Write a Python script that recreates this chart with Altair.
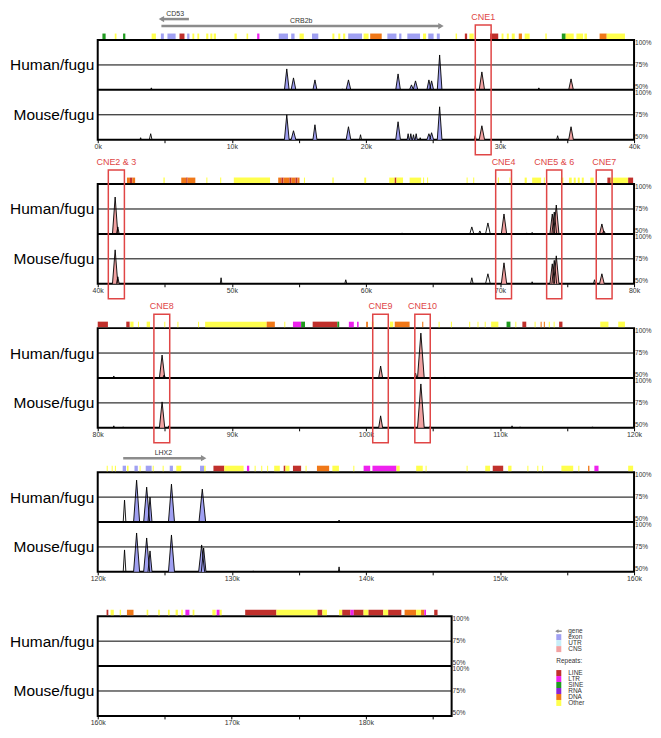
import altair as alt
import pandas as pd

# ---------------- data ----------------
panel_start = [0, 40, 80, 120, 160]
panel_end = [40, 80, 120, 160, 186.4]

# conserved peaks (kb, % identity, annotation, base span kb) - Human/fugu
human_pos = [4.0, 14.1, 14.6, 16.2, 18.25, 18.7, 22.4, 23.4, 23.7, 24.7, 24.9, 25.5, 28.65, 32.9, 35.3,
             41.3, 41.5, 62.7, 67.9, 68.5, 69.1, 70.3, 72.0, 72.4, 73.9, 74.05, 74.2, 77.1, 77.6, 77.75,
             81.2, 84.8, 84.95, 101.1, 103.7, 104.1, 105.9,
             122.0, 122.9, 123.65, 123.9, 125.5, 127.8, 138.0,
             163.4]
human_pct = [52, 71, 62, 60, 51, 60, 66, 55, 59, 60, 59, 85, 68, 52, 61,
             87, 57, 51, 57, 53, 61, 70, 51, 51.5, 70, 72, 79, 51, 60, 53,
             52, 73, 53, 62, 55, 95, 51,
             72, 92, 85, 75, 88, 83, 52,
             51]
human_kind = ['none', 'exon', 'exon', 'exon', 'none', 'exon', 'exon', 'exon', 'exon', 'exon', 'exon', 'exon', 'CNS', 'none', 'CNS',
              'CNS', 'CNS', 'none', 'none', 'none', 'none', 'CNS', 'none', 'none', 'CNS', 'CNS', 'CNS', 'none', 'CNS', 'CNS',
              'none', 'CNS', 'CNS', 'CNS', 'CNS', 'CNS', 'none',
              'none', 'exon', 'exon', 'exon', 'exon', 'exon', 'none',
              'none']
human_span = [0.12, 0.35, 0.35, 0.3, 0.1, 0.35, 0.35, 0.3, 0.35, 0.3, 0.3, 0.35, 0.4, 0.15, 0.35,
              0.4, 0.2, 0.1, 0.3, 0.2, 0.35, 0.4, 0.1, 0.1, 0.35, 0.35, 0.4, 0.1, 0.35, 0.25,
              0.12, 0.4, 0.2, 0.3, 0.2, 0.5, 0.12,
              0.2, 0.45, 0.45, 0.3, 0.45, 0.5, 0.1,
              0.1]

# Mouse/fugu
mouse_pos = [3.2, 3.95, 14.1, 14.6, 16.2, 18.7, 19.6, 22.4, 23.15, 23.35, 23.55, 23.75, 24.05, 24.7, 24.9, 25.5, 28.15, 28.65, 34.3, 35.3,
             41.3, 41.5, 49.2, 58.5, 67.9, 69.1, 70.3, 72.4, 73.9, 74.05, 74.2, 77.05, 77.6,
             81.2, 81.9, 84.8, 85.3, 101.1, 104.1, 104.8, 110.9, 111.5, 116.9,
             122.0, 122.9, 123.65, 123.9, 125.5, 127.75, 127.9, 131.6, 138.0]
mouse_pct = [52, 56, 75, 59, 65, 63, 55, 68, 56, 56, 55, 56, 52, 56, 57, 83, 54, 64, 54, 63,
             84, 57, 56, 54, 56, 60, 71, 52, 70, 73.5, 78, 54, 60,
             52, 51, 76, 52, 62, 94, 52, 52, 51, 51,
             72, 89, 84, 71, 87, 77, 74, 51, 55]
mouse_kind = ['none', 'none', 'exon', 'exon', 'exon', 'exon', 'none', 'exon', 'exon', 'exon', 'exon', 'exon', 'none', 'exon', 'exon', 'exon', 'none', 'CNS', 'none', 'CNS',
              'CNS', 'CNS', 'none', 'none', 'none', 'none', 'CNS', 'none', 'CNS', 'CNS', 'CNS', 'none', 'CNS',
              'none', 'none', 'CNS', 'none', 'CNS', 'CNS', 'none', 'none', 'none', 'none',
              'none', 'exon', 'exon', 'exon', 'exon', 'exon', 'exon', 'none', 'none']
mouse_span = [0.1, 0.2, 0.35, 0.35, 0.3, 0.35, 0.15, 0.35, 0.15, 0.15, 0.15, 0.15, 0.1, 0.3, 0.3, 0.35, 0.15, 0.4, 0.15, 0.35,
              0.4, 0.2, 0.12, 0.15, 0.2, 0.35, 0.4, 0.1, 0.35, 0.35, 0.4, 0.15, 0.35,
              0.1, 0.1, 0.4, 0.15, 0.3, 0.5, 0.15, 0.1, 0.1, 0.1,
              0.2, 0.45, 0.45, 0.3, 0.45, 0.45, 0.35, 0.1, 0.1]

# annotation track (exons and repeats), kb
ann_start = [0.35, 1.27, 1.89, 4.02, 4.71, 5.20, 6.10, 6.67, 7.06, 7.43, 8.09, 8.40, 8.65, 10.20, 11.10, 11.89, 13.50, 14.43, 15.05, 15.98,
             17.50, 17.94, 18.30, 18.68, 19.83, 20.32, 21.60, 22.48, 23.09, 24.26, 24.65, 25.29, 26.69, 27.38, 27.72, 29.26, 30.12, 30.51,
             30.88, 31.40, 31.84, 33.38, 34.61, 34.90, 35.70, 36.30, 37.43, 37.96,
             42.18, 42.40, 42.58, 44.90, 46.23, 46.60, 46.70, 48.10, 49.13, 50.15, 53.46, 53.70, 53.85, 54.30, 54.45, 54.75, 54.90, 55.38,
             57.50, 59.88, 61.74, 62.15, 62.28, 63.26, 64.26, 64.56, 67.51, 68.00, 69.84, 70.70, 71.84, 72.40, 73.27, 74.54, 75.15, 75.50,
             75.80, 76.10, 76.74, 78.01, 78.26, 79.56,
             80.00, 82.13, 82.43, 83.00, 83.65, 84.96, 85.94, 87.48, 88.01, 92.60, 93.91, 94.56, 95.17, 96.03, 97.87, 98.73, 99.34, 100.02,
             100.44, 101.79, 102.15, 104.20, 105.42, 106.34, 107.70, 108.32, 108.86, 109.34, 110.49, 111.14, 111.67, 112.58, 113.03, 113.27,
             113.64, 114.00, 114.41, 117.48, 118.82,
             120.67, 121.04, 121.28, 121.86, 122.18, 122.74, 123.12, 123.58, 124.10, 124.84, 125.37, 125.86, 127.63, 127.94, 128.63, 129.44,
             131.13, 131.70, 132.19, 132.63, 133.16, 133.87, 134.00, 134.56, 135.50, 136.35, 137.50, 139.06, 139.83, 140.49, 142.28, 143.75,
             144.45, 147.51, 148.90, 149.46, 150.61, 152.04, 152.78, 153.14, 154.58, 155.84, 156.57, 157.04, 159.56,
             160.66, 160.96, 161.64, 162.18, 163.65, 164.51, 165.24, 165.81, 166.23, 166.54, 167.08, 168.55, 168.87, 169.10, 171.00, 173.33,
             176.40, 176.76, 178.00, 178.24, 178.85, 179.10, 179.83, 180.20, 181.30, 181.67, 182.89, 183.75, 184.12, 184.36, 185.10]
ann_end = [0.59, 1.40, 2.06, 4.34, 4.93, 5.81, 6.47, 6.84, 7.20, 7.57, 8.25, 8.55, 8.82, 10.37, 11.22, 12.06, 14.19, 14.68, 15.37, 16.45,
           17.65, 18.09, 18.46, 19.71, 20.20, 21.18, 22.28, 22.65, 24.04, 24.49, 25.05, 25.51, 26.80, 27.55, 28.04, 29.87, 30.26, 30.66,
           31.10, 31.64, 32.21, 33.49, 34.90, 35.50, 36.20, 36.49, 37.96, 39.32,
           42.40, 42.58, 42.79, 45.00, 46.60, 46.70, 47.28, 48.18, 49.21, 52.85, 53.70, 53.85, 54.30, 54.45, 54.75, 54.90, 55.05, 55.46,
           57.60, 60.02, 62.15, 62.28, 62.77, 64.12, 64.34, 64.64, 67.59, 68.08, 69.92, 70.78, 72.00, 73.07, 73.35, 74.73, 75.35, 75.65,
           75.95, 76.25, 76.99, 78.26, 79.56, 79.93,
           80.76, 82.38, 82.67, 83.08, 83.90, 85.04, 86.02, 87.56, 92.60, 93.21, 93.99, 95.17, 95.46, 97.87, 98.01, 99.10, 99.46, 100.15,
           100.57, 102.04, 103.26, 104.28, 105.50, 106.42, 107.78, 108.40, 108.94, 109.88, 110.78, 111.22, 111.96, 112.66, 113.11, 113.35,
           113.72, 114.08, 114.66, 118.09, 119.32,
           120.75, 121.12, 121.36, 122.11, 122.30, 122.99, 123.20, 124.02, 124.18, 124.92, 125.61, 126.23, 127.94, 128.05, 129.44, 130.88,
           131.30, 131.78, 132.27, 132.71, 133.58, 134.00, 134.30, 135.17, 135.58, 137.26, 137.99, 139.14, 140.32, 142.28, 142.52, 144.24,
           144.53, 147.59, 149.26, 150.24, 150.86, 152.12, 152.86, 153.22, 155.46, 155.92, 156.67, 157.35, 159.93,
           160.79, 161.20, 161.74, 162.67, 163.77, 164.63, 165.37, 165.98, 166.35, 166.84, 167.21, 168.80, 169.10, 169.25, 173.33, 176.40,
           176.76, 177.10, 178.24, 178.85, 179.10, 179.83, 180.20, 181.30, 181.67, 182.65, 183.75, 184.12, 184.36, 184.49, 185.35]
ann_type = ['SINE', 'Other', 'SINE', 'Other', 'exon', 'exon', 'LINE', 'exon', 'Other', 'Other', 'Other', 'Other', 'Other', 'Other', 'Other', 'LTR', 'exon', 'exon', 'Other', 'exon',
            'Other', 'Other', 'Other', 'exon', 'Other', 'DNA', 'exon', 'exon', 'exon', 'Other', 'exon', 'exon', 'Other', 'LINE', 'Other', 'LINE', 'Other', 'Other',
            'Other', 'DNA', 'Other', 'Other', 'SINE', 'Other', 'Other', 'Other', 'DNA', 'Other',
            'DNA', 'LINE', 'DNA', 'Other', 'DNA', 'LINE', 'DNA', 'Other', 'Other', 'Other', 'DNA', 'LINE', 'DNA', 'LINE', 'DNA', 'LINE', 'DNA', 'Other',
            'Other', 'Other', 'Other', 'LINE', 'Other', 'Other', 'Other', 'Other', 'Other', 'Other', 'Other', 'Other', 'Other', 'Other', 'Other', 'Other', 'Other', 'Other',
            'Other', 'Other', 'Other', 'LINE', 'Other', 'LINE',
            'LINE', 'LINE', 'Other', 'Other', 'Other', 'Other', 'Other', 'Other', 'Other', 'DNA', 'Other', 'LTR', 'SINE', 'LINE', 'SINE', 'LTR', 'LTR', 'DNA',
            'Other', 'Other', 'DNA', 'DNA', 'Other', 'Other', 'Other', 'Other', 'Other', 'Other', 'SINE', 'Other', 'LINE', 'Other', 'DNA', 'DNA',
            'Other', 'Other', 'LINE', 'Other', 'Other',
            'Other', 'Other', 'Other', 'exon', 'Other', 'exon', 'Other', 'exon', 'Other', 'Other', 'exon', 'Other', 'exon', 'Other', 'LINE', 'Other',
            'LTR', 'Other', 'Other', 'Other', 'Other', 'LINE', 'Other', 'LINE', 'Other', 'DNA', 'Other', 'Other', 'LTR', 'LTR', 'Other', 'Other',
            'Other', 'Other', 'Other', 'LINE', 'Other', 'Other', 'Other', 'Other', 'Other', 'Other', 'DNA', 'LTR', 'Other',
            'LINE', 'Other', 'Other', 'DNA', 'Other', 'Other', 'Other', 'Other', 'Other', 'LTR', 'Other', 'Other', 'LTR', 'Other', 'LINE', 'Other',
            'LINE', 'Other', 'Other', 'LINE', 'LTR', 'LINE', 'Other', 'LINE', 'Other', 'LINE', 'DNA', 'Other', 'DNA', 'LTR', 'LINE']

# genes
gene_name = ['CD53', 'CRB2b', 'LHX2']
gene_start = [4.75, 4.75, 121.9]
gene_end = [6.8, 25.6, 127.9]
gene_strand = ['-', '+', '+']

# conserved non-coding elements
cne_name = ['CNE1', 'CNE2 & 3', 'CNE4', 'CNE5 & 6', 'CNE7', 'CNE8', 'CNE9', 'CNE10']
cne_start = [28.16, 40.79, 69.68, 73.48, 77.18, 84.19, 100.51, 103.65]
cne_end = [29.34, 41.99, 70.86, 74.61, 78.36, 85.37, 101.67, 104.80]

pct_labels = ['100%', '75%', '50%']

feature_types = ['exon', 'UTR', 'CNS', 'LINE', 'LTR', 'SINE', 'RNA', 'DNA', 'Other']
feature_colors = ['#a0a0f2', '#c8eef8', '#f2a2a2', '#c0302c', '#ee22ee', '#1f9a1f', '#8b22d6', '#f07818', '#ffff4d']
legend_features = ['gene', 'exon', 'UTR', 'CNS']
legend_repeats = ['LINE', 'LTR', 'SINE', 'RNA', 'DNA', 'Other']

assert len(human_pos) == len(human_pct) == len(human_kind) == len(human_span)
assert len(mouse_pos) == len(mouse_pct) == len(mouse_kind) == len(mouse_span)
assert len(ann_start) == len(ann_end) == len(ann_type)

# ---------------- layout / style ----------------
PX_PER_KB = 13.45
PANEL_H = 100
RED = '#e04646'
GRAY = '#8c8c8c'
YS = alt.Scale(domain=[0, 2], nice=False, zero=False)
YAX = alt.Axis(values=[0.5, 1.5],
               labelExpr="datum.value > 1 ? 'Human/fugu' : 'Mouse/fugu'",
               ticks=False, tickSize=0, domain=False, grid=False, title=None,
               labelFontSize=15.5, labelColor='black', labelPadding=4)
COLOR = alt.Scale(domain=feature_types, range=feature_colors)
LANE_ARROW = [2.28, 2.42]
LANE_LABEL = [2.38, 2.52]

# gene lanes: longer genes first, overlapping shorter genes go one lane up
order = sorted(range(len(gene_name)), key=lambda i: -(gene_end[i] - gene_start[i]))
gene_lane = [0] * len(gene_name)
placed = []
for i in order:
    lane = 0
    for j in placed:
        if gene_start[i] < gene_end[j] and gene_end[i] > gene_start[j] and gene_lane[j] >= lane:
            lane = gene_lane[j] + 1
    gene_lane[i] = lane
    placed.append(i)


def peak_rows(pos, pct, kind, span, offset, track, s, e):
    rows = []
    for i, (p, h, k, w) in enumerate(zip(pos, pct, kind, span)):
        if s <= p < e:
            top = offset + (h - 50) / 50
            for j, (x, y) in enumerate([(p - w / 2, offset), (p, top), (p + w / 2, offset)]):
                rows.append({'x': x, 'y': y, 'base': offset, 'pid': f'{track}{i}', 'kind': k, 'ord': j})
    return rows


def panel(idx):
    s, e = panel_start[idx], panel_end[idx]
    width = round((e - s) * PX_PER_KB)
    xs = alt.Scale(domain=[s, e], nice=False, zero=False)
    ticks = [v for v in range(int(s), int(e) + 1, 5)]
    xax = alt.Axis(values=ticks, labelExpr="datum.value % 10 === 0 ? datum.value + 'k' : ''",
                   tickSize=3, tickColor='black', domain=False, grid=False, title=None,
                   labelFontSize=7, labelColor='#333333', labelPadding=0, labelFlush=False)

    def X(f):
        return alt.X(f, type='quantitative', scale=xs, axis=xax)

    def Y(f):
        return alt.Y(f, type='quantitative', scale=YS, axis=YAX)

    layers = []

    # annotation track
    ann = [{'x': max(a, s), 'x2': min(b, e), 'y': 2.02, 'y2': 2.13, 'kind': t}
           for a, b, t in zip(ann_start, ann_end, ann_type) if a < e and b > s]
    if ann:
        layers.append(alt.Chart(pd.DataFrame(ann)).mark_rect().encode(
            x=X('x'), x2='x2', y=Y('y'), y2='y2',
            color=alt.Color('kind:N', scale=COLOR, legend=None)))

    # peaks
    rows = peak_rows(human_pos, human_pct, human_kind, human_span, 1.0, 'h', s, e) + \
        peak_rows(mouse_pos, mouse_pct, mouse_kind, mouse_span, 0.0, 'm', s, e)
    if rows:
        pdf = pd.DataFrame(rows)
        fill = pdf[pdf['kind'] != 'none']
        if len(fill):
            layers.append(alt.Chart(fill).mark_area(interpolate='linear', opacity=1).encode(
                x=X('x'), y=Y('y'), y2='base',
                color=alt.Color('kind:N', scale=COLOR, legend=None),
                detail='pid:N'))
        layers.append(alt.Chart(pdf).mark_line(color='black', strokeWidth=0.9).encode(
            x=X('x'), y=Y('y'), detail='pid:N', order='ord:Q'))

    # grid lines
    layers.append(alt.Chart(pd.DataFrame({'y': [1.5, 0.5]})).mark_rule(color='black', strokeWidth=1).encode(y=Y('y')))
    layers.append(alt.Chart(pd.DataFrame({'y': [1.0]})).mark_rule(color='black', strokeWidth=2).encode(y=Y('y')))

    # percent labels at the right
    top_df = pd.DataFrame({'x': [e, e], 'y': [2.0, 1.0], 't': [pct_labels[0]] * 2})
    mid_df = pd.DataFrame({'x': [e, e], 'y': [1.5, 0.5], 't': [pct_labels[1]] * 2})
    bot_df = pd.DataFrame({'x': [e, e], 'y': [1.0, 0.0], 't': [pct_labels[2]] * 2})
    for df, bl in [(top_df, 'top'), (mid_df, 'middle'), (bot_df, 'bottom')]:
        layers.append(alt.Chart(df).mark_text(align='left', baseline=bl, dx=1, fontSize=6.5, color='#333333').encode(
            x=X('x'), y=Y('y'), text='t:N'))

    # genes
    g = [{'name': n, 'x': a, 'x2': b, 'head': (a if st == '-' else b), 'strand': st,
          'y': LANE_ARROW[ln], 'ly': LANE_LABEL[ln], 'lx': (a + b) / 2}
         for n, a, b, st, ln in zip(gene_name, gene_start, gene_end, gene_strand, gene_lane) if a < e and b > s]
    if g:
        gdf = pd.DataFrame(g)
        layers.append(alt.Chart(gdf).mark_rule(color=GRAY, strokeWidth=2.5).encode(
            x=X('x'), x2='x2', y=Y('y')))
        for st, shp in [('-', 'triangle-left'), ('+', 'triangle-right')]:
            sub = gdf[gdf['strand'] == st]
            if len(sub):
                layers.append(alt.Chart(sub).mark_point(shape=shp, filled=True, color=GRAY, size=40, opacity=1).encode(
                    x=X('head'), y=Y('y')))
        layers.append(alt.Chart(gdf).mark_text(fontSize=7, color='#333333', baseline='middle').encode(
            x=X('lx'), y=Y('ly'), text='name:N'))

    # CNE boxes
    top = 2.3 if any(l > 0 for l, a, b in zip(gene_lane, gene_start, gene_end) if a < e and b > s) else 2.28
    c = [{'name': n, 'x': a, 'x2': b, 'y': -0.3, 'y2': top, 'lx': (a + b) / 2, 'ly': top + 0.16}
         for n, a, b in zip(cne_name, cne_start, cne_end) if a < e and b > s]
    if c:
        cdf = pd.DataFrame(c)
        layers.append(alt.Chart(cdf).mark_rect(fill='transparent', stroke=RED, strokeWidth=1.5).encode(
            x=X('x'), x2='x2', y=Y('y'), y2='y2'))
        layers.append(alt.Chart(cdf).mark_text(fontSize=9, color=RED, baseline='middle').encode(
            x=X('lx'), y=Y('ly'), text='name:N'))

    return alt.layer(*layers).properties(width=width, height=PANEL_H)


def legend_chart():
    rows = []
    r = 0
    for it in legend_features:
        rows.append({'label': it, 'row': r, 'kind': it, 'tx': 12})
        r += 1
    r += 1
    rows.append({'label': 'Repeats:', 'row': r, 'kind': 'head', 'tx': 0})
    r += 2
    for it in legend_repeats:
        rows.append({'label': it, 'row': r, 'kind': it, 'tx': 12})
        r += 1
    df = pd.DataFrame(rows)
    df['y1'] = df['row'] - 0.5
    df['y2'] = df['row'] + 0.5
    df['x1'] = 0
    df['x2'] = 5
    row_px = 6.0
    top_rows = -15 / row_px
    ys = alt.Scale(domain=[top_rows, top_rows + PANEL_H / row_px], reverse=True, nice=False, zero=False)
    xs = alt.Scale(domain=[0, 60], nice=False, zero=False)
    sq = df[df['kind'].isin(feature_types)]
    gene = df[df['kind'] == 'gene'].copy()
    gene['ax'] = 0.5
    gene['ax2'] = 5.5
    base_x = lambda f: alt.X(f, type='quantitative', scale=xs, axis=None)
    base_y = lambda f: alt.Y(f, type='quantitative', scale=ys, axis=None)
    l1 = alt.Chart(sq).mark_rect().encode(
        x=base_x('x1'), x2='x2', y=base_y('y1'), y2='y2',
        color=alt.Color('kind:N', scale=COLOR, legend=None))
    l2 = alt.Chart(gene).mark_rule(color=GRAY, strokeWidth=1.5).encode(x=base_x('ax'), x2='ax2', y=base_y('row'))
    l3 = alt.Chart(gene).mark_point(shape='triangle-left', filled=True, color=GRAY, size=14, opacity=1).encode(
        x=base_x('ax'), y=base_y('row'))
    l4 = alt.Chart(df).mark_text(align='left', baseline='middle', fontSize=6.5, color='#333333').encode(
        x=base_x('tx'), y=base_y('row'), text='label:N')
    return alt.layer(l1, l2, l3, l4).properties(width=60, height=PANEL_H,
                                                 view=alt.ViewBackground(stroke='transparent'))


row5 = alt.hconcat(panel(4), legend_chart(), spacing=105, bounds='flush')
chart = alt.vconcat(panel(0), panel(1), panel(2), panel(3), row5, spacing=44.5, bounds='flush', padding=0)
chart = chart.configure(font='Liberation Sans').configure_view(stroke='black', strokeWidth=2)

chart.save("out.html", embed_options={"renderer": "svg", "actions": False})
